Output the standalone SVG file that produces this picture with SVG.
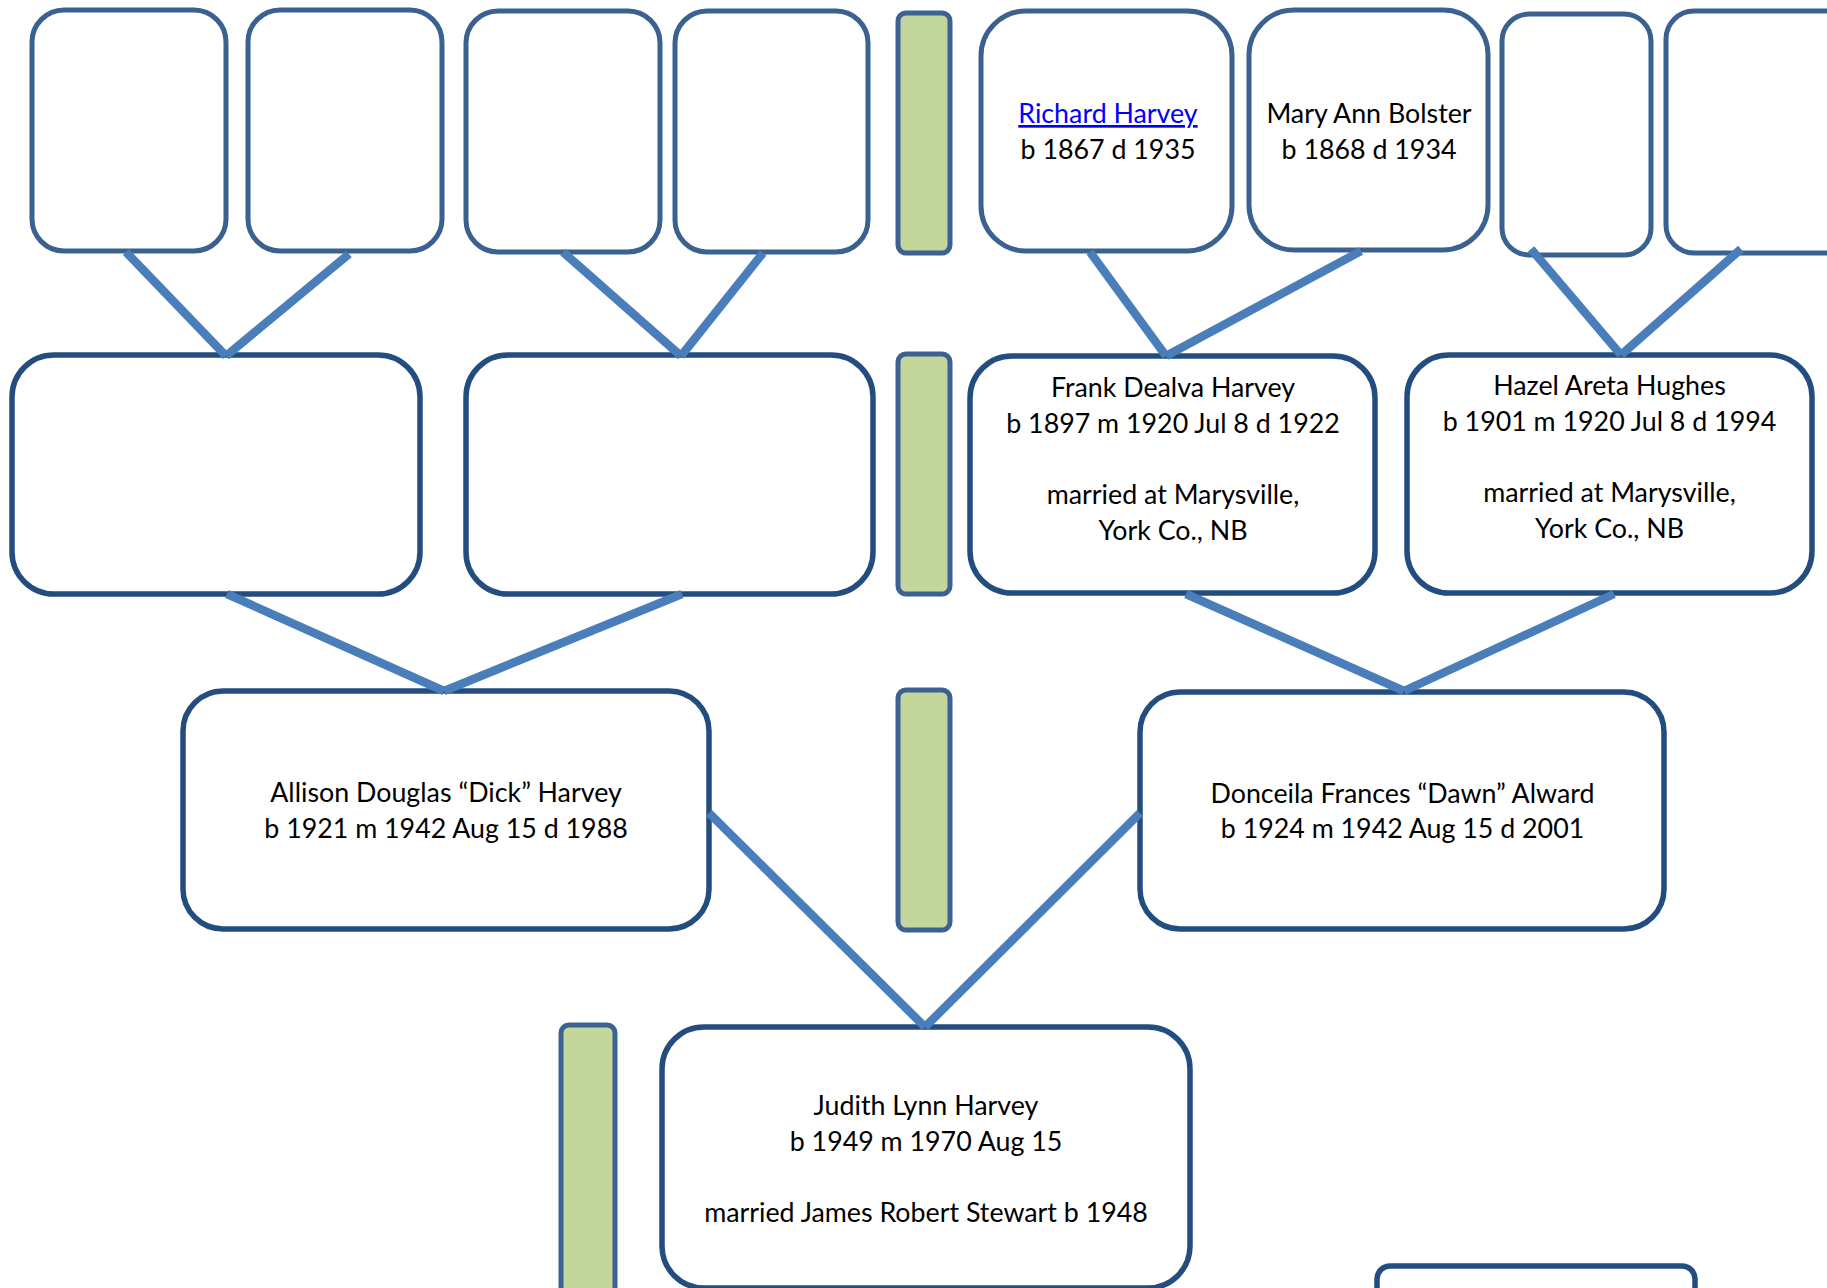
<svg xmlns="http://www.w3.org/2000/svg" width="1827" height="1288" viewBox="0 0 1827 1288">
<style>
.top{fill:#fff;stroke:#3A6190;stroke-width:5}
.box{fill:#fff;stroke:#234C7F;stroke-width:5.5}
.bar{fill:#C3D69B;stroke:#3C6193;stroke-width:5}
.con line{stroke:#4A7EBB;stroke-width:8.5;stroke-linecap:butt}
text{font-family:Lato,"Liberation Sans",sans-serif;font-size:26.8px;fill:#000;text-anchor:middle}
.link{fill:#0000FF;text-decoration:underline}
</style>
<rect width="1827" height="1288" fill="#fff"/>
<g id="n-t1"><rect class="top" x="32" y="10" width="194" height="241" rx="32"/></g>
<g id="n-t2"><rect class="top" x="248" y="10" width="194" height="241" rx="32"/></g>
<g id="n-t3"><rect class="top" x="466" y="11" width="194" height="241" rx="32"/></g>
<g id="n-t4"><rect class="top" x="675" y="11" width="193" height="241" rx="32"/></g>
<g id="bar1"><rect class="bar" x="898" y="13" width="52" height="240" rx="8"/></g>
<g id="n-richard"><rect class="top" x="981" y="11" width="251" height="240" rx="45"/>
<text class="link" x="1108" y="123">Richard Harvey</text>
<text x="1108" y="159">b 1867 d 1935</text></g>
<g id="n-mary"><rect class="top" x="1249" y="10" width="239" height="240" rx="45"/>
<text x="1369" y="123">Mary Ann Bolster</text>
<text x="1369" y="159">b 1868 d 1934</text></g>
<g id="n-t7"><rect class="top" x="1502" y="14" width="149" height="241" rx="27"/></g>
<g id="n-t8"><rect class="top" x="1666" y="11" width="190" height="242" rx="28"/></g>
<g id="n-a"><rect class="box" x="12" y="355" width="408" height="239" rx="42"/></g>
<g id="n-b"><rect class="box" x="466" y="355" width="407" height="239" rx="42"/></g>
<g id="bar2"><rect class="bar" x="898" y="354" width="52" height="240" rx="8"/></g>
<g id="n-frank"><rect class="box" x="970" y="356" width="405" height="237" rx="42"/>
<text x="1173" y="397">Frank Dealva Harvey</text>
<text x="1173" y="433">b 1897 m 1920 Jul 8 d 1922</text>
<text x="1173" y="504">married at Marysville,</text>
<text x="1173" y="540">York Co., NB</text></g>
<g id="n-hazel"><rect class="box" x="1407" y="355" width="405" height="238" rx="42"/>
<text x="1609.5" y="395">Hazel Areta Hughes</text>
<text x="1609.5" y="431">b 1901 m 1920 Jul 8 d 1994</text>
<text x="1609.5" y="502">married at Marysville,</text>
<text x="1609.5" y="538">York Co., NB</text></g>
<g id="n-allison"><rect class="box" x="183" y="691" width="526" height="238" rx="40"/>
<text x="446" y="802">Allison Douglas “Dick” Harvey</text>
<text x="446" y="837.5">b 1921 m 1942 Aug 15 d 1988</text></g>
<g id="bar3"><rect class="bar" x="898" y="690" width="52" height="240" rx="8"/></g>
<g id="n-donceila"><rect class="box" x="1140" y="692" width="524" height="237" rx="40"/>
<text x="1402.5" y="802.5">Donceila Frances “Dawn” Alward</text>
<text x="1402.5" y="838">b 1924 m 1942 Aug 15 d 2001</text></g>
<g id="bar4"><rect class="bar" x="561" y="1025" width="54" height="290" rx="8"/></g>
<g id="n-judith"><rect class="box" x="662" y="1027" width="528" height="261" rx="42"/>
<text x="926" y="1115">Judith Lynn Harvey</text>
<text x="926" y="1150.5">b 1949 m 1970 Aug 15</text>
<text x="926" y="1221.5">married James Robert Stewart b 1948</text></g>
<g id="n-extra"><rect class="box" x="1377" y="1266" width="318" height="60" rx="13"/></g>
<g id="connectors" class="con">
<line x1="126" y1="252" x2="226" y2="356"/>
<line x1="349" y1="254" x2="226" y2="356"/>
<line x1="563" y1="252" x2="681" y2="356"/>
<line x1="763" y1="253" x2="681" y2="356"/>
<line x1="1090" y1="252" x2="1166" y2="356"/>
<line x1="1361" y1="251" x2="1166" y2="356"/>
<line x1="1531" y1="249" x2="1621" y2="355"/>
<line x1="1741" y1="249" x2="1621" y2="355"/>
<line x1="227" y1="594" x2="444" y2="691"/>
<line x1="682" y1="594" x2="444" y2="691"/>
<line x1="1186" y1="594" x2="1404" y2="691"/>
<line x1="1614" y1="594" x2="1404" y2="691"/>
<line x1="709" y1="813" x2="925" y2="1027"/>
<line x1="1140" y1="813" x2="925" y2="1027"/>
</g>
</svg>
